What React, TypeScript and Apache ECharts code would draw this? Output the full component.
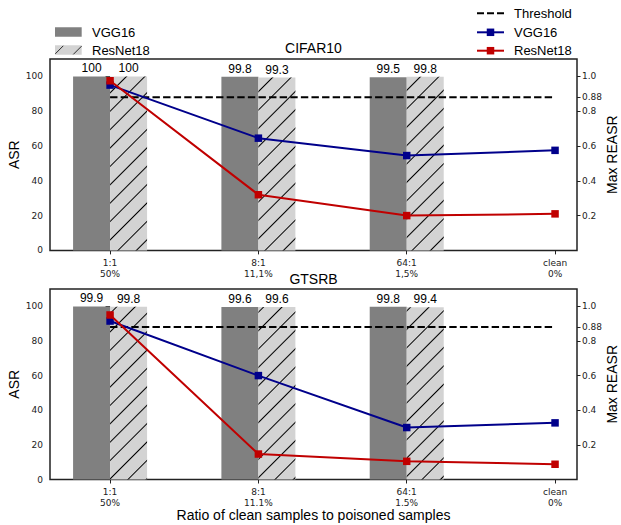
import React, { useEffect, useRef } from 'react';
import * as echarts from 'echarts';

const xLabelsTop = ['1:1\n50%', '8:1\n11,1%', '64:1\n1,5%', 'clean\n0%'];
const xLabelsBottom = ['1:1\n50%', '8:1\n11.1%', '64:1\n1.5%', 'clean\n0%'];
const barPositions = [0, 1, 2];
const linePositions = [0, 1, 2, 3];
const cifarVggAsr = [100, 99.8, 99.5];
const cifarResAsr = [100, 99.3, 99.8];
const gtsrbVggAsr = [99.9, 99.6, 99.8];
const gtsrbResAsr = [99.8, 99.6, 99.4];
const cifarVggReasr = [0.95, 0.645, 0.545, 0.575];
const cifarResReasr = [0.975, 0.32, 0.2, 0.21];
const gtsrbVggReasr = [0.915, 0.6, 0.3, 0.327];
const gtsrbResReasr = [0.95, 0.147, 0.105, 0.088];
const threshold = 0.88;
const leftTicks = [0, 20, 40, 60, 80, 100];
const rightTicks = [0.2, 0.4, 0.6, 0.8, 0.88, 1.0];
const catTicks = [0, 1, 2, 3];

const NAVY = '#00008b';
const RED = '#c00000';
const DARK = '#222';
const SANS = 'Liberation Sans, Arial, sans-serif';
const TICKF = 'DejaVu Sans, sans-serif';

const GRIDS = [
  { left: 50, top: 59, width: 527, height: 191.4 },
  { left: 50, top: 289, width: 527, height: 190.5 },
];

export default function App() {
  const ref = useRef<HTMLDivElement>(null);
  useEffect(() => {
    if (!ref.current) return;
    const chart = echarts.init(ref.current, null, { renderer: 'svg' });

    const xAxes = [xLabelsTop, xLabelsBottom].map((labels, gi) => ({
      type: 'value',
      gridIndex: gi,
      min: -0.405,
      max: 3.148,
      axisLine: { show: false },
      splitLine: { show: false },
      axisTick: { show: true, customValues: catTicks, length: 4, lineStyle: { color: DARK, width: 1 } },
      axisLabel: {
        customValues: catTicks,
        formatter: (v: number) => labels[Math.round(v)] ?? '',
        fontSize: 9,
        fontFamily: TICKF,
        color: DARK,
        lineHeight: 11,
        margin: 7,
      },
    }));

    const yAxes: any[] = [];
    [0, 1].forEach((gi) => {
      yAxes.push({
        type: 'value',
        gridIndex: gi,
        position: 'left',
        min: 0,
        max: 110,
        axisLine: { show: false },
        splitLine: { show: false },
        axisTick: { show: true, customValues: leftTicks, length: 4.5, lineStyle: { color: DARK } },
        axisLabel: { customValues: leftTicks, fontSize: 9, fontFamily: TICKF, color: DARK, margin: 7 },
      });
      yAxes.push({
        type: 'value',
        gridIndex: gi,
        position: 'right',
        min: 0,
        max: 1.1,
        axisLine: { show: false },
        splitLine: { show: false },
        axisTick: { show: true, customValues: rightTicks, length: 3.5, lineStyle: { color: DARK } },
        axisLabel: {
          customValues: rightTicks,
          formatter: (v: number) => (Math.abs(v - 0.88) < 1e-6 ? '0.88' : v.toFixed(1)),
          fontSize: 9,
          fontFamily: TICKF,
          color: DARK,
          margin: 5,
        },
      });
    });

    const hatch = {
      symbol: 'rect',
      symbolSize: 1,
      color: '#000',
      dashArrayX: [1, 0],
      dashArrayY: [1, 12],
      rotation: -Math.PI / 4,
    };

    const barLabel = {
      show: true,
      position: 'top',
      distance: 2,
      fontSize: 12,
      fontFamily: SANS,
      color: '#000',
      formatter: (p: any) => String(p.value[1]),
    };

    const datasets = [
      { vgg: cifarVggAsr, res: cifarResAsr, vl: cifarVggReasr, rl: cifarResReasr },
      { vgg: gtsrbVggAsr, res: gtsrbResAsr, vl: gtsrbVggReasr, rl: gtsrbResReasr },
    ];

    const series: any[] = [];
    datasets.forEach((d, gi) => {
      series.push({
        type: 'bar',
        xAxisIndex: gi,
        yAxisIndex: gi * 2,
        data: barPositions.map((x, i) => [x, d.vgg[i]]),
        barWidth: 37,
        barGap: '0%',
        itemStyle: { color: '#808080' },
        label: barLabel,
        z: 1,
      });
      series.push({
        type: 'bar',
        xAxisIndex: gi,
        yAxisIndex: gi * 2,
        data: barPositions.map((x, i) => [x, d.res[i]]),
        barWidth: 37,
        barGap: '0%',
        itemStyle: { color: '#d3d3d3', decal: hatch },
        label: barLabel,
        z: 1,
      });
      series.push({
        type: 'line',
        xAxisIndex: gi,
        yAxisIndex: gi * 2 + 1,
        data: [
          [linePositions[0], threshold],
          [linePositions[3], threshold],
        ],
        symbol: 'none',
        lineStyle: { color: '#000', width: 2, type: [7.4, 3.2] },
        z: 2,
      });
      series.push({
        type: 'line',
        xAxisIndex: gi,
        yAxisIndex: gi * 2 + 1,
        data: linePositions.map((x, i) => [x, d.vl[i]]),
        symbol: 'rect',
        symbolSize: 7.5,
        lineStyle: { color: NAVY, width: 2 },
        itemStyle: { color: NAVY },
        z: 3,
      });
      series.push({
        type: 'line',
        xAxisIndex: gi,
        yAxisIndex: gi * 2 + 1,
        data: linePositions.map((x, i) => [x, d.rl[i]]),
        symbol: 'rect',
        symbolSize: 7.5,
        lineStyle: { color: RED, width: 2 },
        itemStyle: { color: RED },
        z: 4,
      });
    });

    const txt = (text: string, x: number, y: number, size: number, align = 'left', rotation = 0) => ({
      type: 'text',
      x,
      y,
      rotation,
      style: { text, fontSize: size, fontFamily: SANS, fill: '#000', align, verticalAlign: 'middle' },
    });

    const graphic: any[] = [
      // left legend
      { type: 'rect', shape: { x: 55, y: 27.3, width: 26.7, height: 9.4 }, style: { fill: '#808080' } },
      txt('VGG16', 92, 32, 13),
      { type: 'rect', shape: { x: 55, y: 45.3, width: 26.7, height: 9.4 }, style: { fill: '#d3d3d3' } },
      { type: 'line', shape: { x1: 55.3, y1: 53.8, x2: 63.3, y2: 45.8 }, style: { stroke: '#000', lineWidth: 0.8 } },
      { type: 'line', shape: { x1: 73.3, y1: 54.4, x2: 81.6, y2: 46.1 }, style: { stroke: '#000', lineWidth: 0.8 } },
      txt('ResNet18', 92, 50, 13),
      // right legend
      { type: 'line', shape: { x1: 477, y1: 13.3, x2: 504, y2: 13.3 }, style: { stroke: '#000', lineWidth: 2, lineDash: [7, 3] } },
      txt('Threshold', 514, 13.3, 13),
      { type: 'line', shape: { x1: 477, y1: 32.3, x2: 504, y2: 32.3 }, style: { stroke: NAVY, lineWidth: 2 } },
      { type: 'rect', shape: { x: 486.75, y: 28.55, width: 7.5, height: 7.5 }, style: { fill: NAVY } },
      txt('VGG16', 514, 32.3, 13),
      { type: 'line', shape: { x1: 477, y1: 50.7, x2: 504, y2: 50.7 }, style: { stroke: RED, lineWidth: 2 } },
      { type: 'rect', shape: { x: 486.75, y: 46.95, width: 7.5, height: 7.5 }, style: { fill: RED } },
      txt('ResNet18', 514, 50.7, 13),
      // titles
      txt('CIFAR10', 313.5, 48, 14, 'center'),
      txt('GTSRB', 313.5, 278.7, 14, 'center'),
      // axis names
      txt('ASR', 14, 154.7, 14, 'center', Math.PI / 2),
      txt('ASR', 14, 384.3, 14, 'center', Math.PI / 2),
      txt('Max REASR', 612, 154.7, 14, 'center', Math.PI / 2),
      txt('Max REASR', 612, 384.3, 14, 'center', Math.PI / 2),
      txt('Ratio of clean samples to poisoned samples', 313.5, 515, 14, 'center'),
    ];

    chart.setOption({
      animation: false,
      backgroundColor: '#fff',
      grid: GRIDS.map((g) => ({ ...g, show: true, borderColor: DARK, borderWidth: 1.5, backgroundColor: 'transparent' })),
      xAxis: xAxes,
      yAxis: yAxes,
      series,
      graphic,
    });
    return () => chart.dispose();
  }, []);
  return <div ref={ref} style={{ position: 'absolute', left: 0, top: 0, width: 621, height: 525, background: '#fff' }} />;
}
